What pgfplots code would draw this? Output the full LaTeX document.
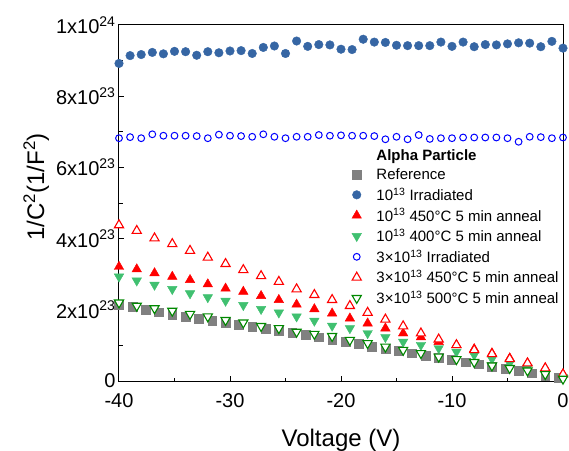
\documentclass[border=0pt]{standalone}
\usepackage{fontspec}
\setmainfont{Liberation Sans}
\usepackage{pgfplots}
\pgfplotsset{compat=1.18}
\usetikzlibrary{calc}

\definecolor{refgray}{RGB}{128,128,128}
\definecolor{irrblue}{RGB}{54,102,164}
\definecolor{annred}{RGB}{255,0,0}
\definecolor{anngreen}{RGB}{64,192,112}
\definecolor{openblue}{RGB}{0,0,255}
\definecolor{opengreen}{RGB}{0,136,0}

% Reference sample
\pgfplotstableread{
V C
-40 2.15e23
-38.8 2.08e23
-37.6 2.00e23
-36.4 1.93e23
-35.2 1.87e23
-34 1.80e23
-32.8 1.76e23
-31.6 1.70e23
-30.4 1.64e23
-29.2 1.58e23
-28 1.52e23
-26.8 1.46e23
-25.6 1.41e23
-24.4 1.35e23
-23.2 1.29e23
-22 1.23e23
-20.8 1.16e23
-19.6 1.10e23
-18.4 1.04e23
-17.2 0.97e23
-16 0.91e23
-14.8 0.85e23
-13.6 0.78e23
-12.4 0.72e23
-11.2 0.66e23
-10 0.60e23
-8.8 0.53e23
-7.6 0.47e23
-6.4 0.41e23
-5.2 0.35e23
-4 0.29e23
-2.8 0.22e23
-1.6 0.16e23
-0.4 0.10e23
}\tabref

% 1e13 irradiated
\pgfplotstableread{
V C
-40 8.92e23
-39 9.14e23
-38 9.17e23
-37 9.23e23
-36 9.19e23
-35 9.26e23
-34 9.25e23
-33 9.15e23
-32 9.25e23
-31 9.22e23
-30 9.27e23
-29 9.28e23
-28 9.20e23
-27 9.37e23
-26 9.41e23
-25 9.20e23
-24 9.55e23
-23 9.40e23
-22 9.45e23
-21 9.44e23
-20 9.32e23
-19 9.31e23
-18 9.60e23
-17 9.52e23
-16 9.51e23
-15 9.43e23
-14 9.42e23
-13 9.42e23
-12 9.42e23
-11 9.52e23
-10 9.40e23
-9 9.52e23
-8 9.39e23
-7 9.45e23
-6 9.44e23
-5 9.47e23
-4 9.50e23
-3 9.49e23
-2 9.39e23
-1 9.54e23
0 9.35e23
}\tabirrA

% 1e13, 450 C anneal
\pgfplotstableread{
V C
-40 3.21e23
-38.4 3.14e23
-36.8 3.03e23
-35.2 2.93e23
-33.6 2.84e23
-32 2.72e23
-30.4 2.60e23
-28.8 2.51e23
-27.2 2.39e23
-25.6 2.28e23
-24 2.15e23
-22.4 2.02e23
-20.8 1.90e23
-19.2 1.76e23
-17.6 1.62e23
-16 1.48e23
-14.4 1.34e23
-12.8 1.23e23
-11.2 1.10e23
-9.6 1.01e23
-8 0.90e23
-6.4 0.78e23
-4.8 0.64e23
-3.2 0.50e23
-1.6 0.36e23
0 0.19e23
}\tabannA

% 1e13, 400 C anneal
\pgfplotstableread{
V C
-40 2.93e23
-38.4 2.82e23
-36.8 2.70e23
-35.2 2.58e23
-33.6 2.46e23
-32 2.35e23
-30.4 2.25e23
-28.8 2.13e23
-27.2 2.02e23
-25.6 1.92e23
-24 1.81e23
-22.4 1.69e23
-20.8 1.55e23
-19.2 1.48e23
-17.6 1.34e23
-16 1.23e23
-14.4 1.10e23
-12.8 1.01e23
-11.2 0.92e23
-9.6 0.82e23
-8 0.73e23
-6.4 0.62e23
-4.8 0.50e23
-3.2 0.38e23
-1.6 0.23e23
0 0.10e23
}\tabannB

% 3e13 irradiated
\pgfplotstableread{
V C
-40 6.82e23
-39 6.85e23
-38 6.82e23
-37 6.93e23
-36 6.89e23
-35 6.89e23
-34 6.89e23
-33 6.88e23
-32 6.82e23
-31 6.92e23
-30 6.89e23
-29 6.88e23
-28 6.86e23
-27 6.93e23
-26 6.86e23
-25 6.82e23
-24 6.86e23
-23 6.86e23
-22 6.91e23
-21 6.89e23
-20 6.90e23
-19 6.89e23
-18 6.89e23
-17 6.88e23
-16 6.79e23
-15 6.86e23
-14 6.79e23
-13 6.91e23
-12 6.80e23
-11 6.82e23
-10 6.82e23
-9 6.84e23
-8 6.84e23
-7 6.84e23
-6 6.84e23
-5 6.82e23
-4 6.72e23
-3 6.86e23
-2 6.85e23
-1 6.82e23
0 6.84e23
}\tabirrB

% 3e13, 450 C anneal
\pgfplotstableread{
V C
-40 4.38e23
-38.4 4.22e23
-36.8 4.01e23
-35.2 3.85e23
-33.6 3.66e23
-32 3.47e23
-30.4 3.29e23
-28.8 3.12e23
-27.2 2.95e23
-25.6 2.79e23
-24 2.58e23
-22.4 2.42e23
-20.8 2.28e23
-19.2 2.11e23
-17.6 1.92e23
-16 1.73e23
-14.4 1.54e23
-12.8 1.34e23
-11.2 1.17e23
-9.6 1.01e23
-8 0.87e23
-6.4 0.76e23
-4.8 0.62e23
-3.2 0.50e23
-1.6 0.36e23
0 0.19e23
}\tabannC

% 3e13, 500 C anneal
\pgfplotstableread{
V C
-40 2.20e23
-38.4 2.11e23
-36.8 2.04e23
-35.2 1.97e23
-33.6 1.88e23
-32 1.81e23
-30.4 1.71e23
-28.8 1.64e23
-27.2 1.54e23
-25.6 1.48e23
-24 1.38e23
-22.4 1.32e23
-20.8 1.26e23
-19.2 1.15e23
-17.6 1.06e23
-16 0.96e23
-14.4 0.87e23
-12.8 0.78e23
-11.2 0.68e23
-9.6 0.61e23
-8 0.53e23
-6.4 0.43e23
-4.8 0.36e23
-3.2 0.29e23
-1.6 0.19e23
0 0.06e23
}\tabannD

\begin{document}
\begin{tikzpicture}
\begin{axis}[
  scale only axis,
  width=444pt, height=356pt,
  xmin=-40, xmax=0, ymin=0, ymax=1e24,
  xtick={-40,-30,-20,-10,0},
  xticklabels={-40,-30,-20,-10,0},
  minor x tick num=1,
  ytick={0,2e23,4e23,6e23,8e23,1e24},
  yticklabels={0,2x10\textsuperscript{23},4x10\textsuperscript{23},6x10\textsuperscript{23},8x10\textsuperscript{23},1x10\textsuperscript{24}},
  scaled y ticks=false,
  minor y tick num=1,
  tick align=inside,
  xtick pos=left, ytick pos=left,
  major tick length=5pt, minor tick length=3.5pt,
  axis line style={line width=1pt},
  every tick/.style={black, line width=1pt},
  tick label style={font=\fontsize{20}{24}\selectfont},
  xticklabel style={yshift=-9pt},
  label style={font=\fontsize{24}{28}\selectfont},
  xlabel={Voltage (V)},
  ylabel={1/C\textsuperscript{2}(1/F\textsuperscript{2})},
  xlabel style={at={(rel axis cs:0.5,0)}, anchor=base, yshift=-65pt},
  ylabel style={at={(ticklabel cs:0.545)}},
  legend style={draw=none, fill=none, at={(rel axis cs:0.509,0.661)}, anchor=north west,
    font=\fontsize{15}{18}\selectfont, row sep=2.6pt, column sep=13pt},
  legend cell align=left,
  clip=false,
]
\addlegendimage{empty legend}
\addlegendentry{\textbf{Alpha Particle}}

\addplot[only marks, mark=square*, mark size=4.4pt, color=refgray] table[x=V,y=C] {\tabref};
\addlegendentry{Reference}

\addplot[only marks, mark=*, mark size=4.3pt, color=irrblue] table[x=V,y=C] {\tabirrA};
\addlegendentry{10\textsuperscript{13} Irradiated}

\addplot[only marks, mark=triangle*, mark size=5.5pt, color=annred] table[x=V,y=C] {\tabannA};
\addlegendentry{10\textsuperscript{13} 450°C 5 min anneal}

\addplot[only marks, mark=triangle*, mark size=5.5pt, color=anngreen, mark options={rotate=180}] table[x=V,y=C] {\tabannB};
\addlegendentry{10\textsuperscript{13} 400°C 5 min anneal}

\addplot[only marks, mark=o, mark size=3.4pt, color=openblue, mark options={fill=white, line width=1pt}] table[x=V,y=C] {\tabirrB};
\addlegendentry{3×10\textsuperscript{13} Irradiated}

\addplot[only marks, mark=triangle*, mark size=5.3pt, draw=annred, mark options={fill=white, line width=1.1pt}] table[x=V,y=C] {\tabannC};
\addlegendentry{3×10\textsuperscript{13} 450°C 5 min anneal}

\addplot[only marks, mark=triangle*, mark size=5.3pt, draw=opengreen, mark options={fill=white, line width=1.1pt, rotate=180}] table[x=V,y=C] {\tabannD};
\addlegendentry{3×10\textsuperscript{13} 500°C 5 min anneal}
\end{axis}
\pgfresetboundingbox
\path[use as bounding box] ($(current axis.south west)+(-119pt,-69pt)$) rectangle ($(current axis.north east)+(6pt,25pt)$);
\end{tikzpicture}
\end{document}
